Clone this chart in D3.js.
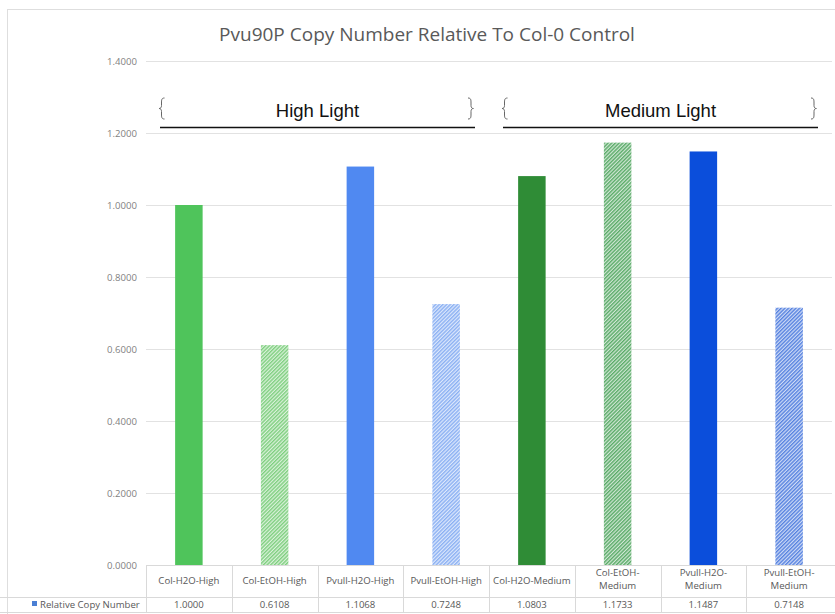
<!DOCTYPE html>
<html>
<head>
<meta charset="utf-8">
<script src="https://cdn.jsdelivr.net/npm/d3@7"></script>
<style>
  html, body { margin: 0; padding: 0; background: #fff; }
  svg { display: block; }
</style>
</head>
<body>
<svg id="chart" width="835" height="614"></svg>
<script>
// Sample names, measured relative copy number and per-bar styling
const categories = ["Col-H2O-High", "Col-EtOH-High", "Pvull-H2O-High", "Pvull-EtOH-High",
                    "Col-H2O-Medium", "Col-EtOH-Medium", "Pvull-H2O-Medium", "Pvull-EtOH-Medium"];
// table header text, broken where the column is too narrow
const tableLabels = [["Col-H2O-High"], ["Col-EtOH-High"], ["Pvull-H2O-High"], ["Pvull-EtOH-High"],
                     ["Col-H2O-Medium"], ["Col-EtOH-", "Medium"], ["Pvull-H2O-", "Medium"], ["Pvull-EtOH-", "Medium"]];
const values = [1.0000, 0.6108, 1.1068, 0.7248, 1.0803, 1.1733, 1.1487, 0.7148];
const barColors = ["#4fc45b", "#7fcf80", "#5089f1", "#8ab0f3", "#2f8c36", "#5aab68", "#0b4edb", "#5682e0"];
const hatched = [false, true, false, true, false, true, false, true];
const yTicks = [0, 0.2, 0.4, 0.6, 0.8, 1.0, 1.2, 1.4];
const groups = [
  { label: "High Light", from: 0, to: 3 },
  { label: "Medium Light", from: 4, to: 7 }
];
const seriesName = "Relative Copy Number";
const title = "Pvu90P Copy Number Relative To Col-0 Control";

const svg = d3.select("#chart");
const W = 835, H = 614;
const margin = { left: 146, right: 3, top: 61, bottom: 49 };
const plotBottom = H - margin.bottom;   // y of the 0 baseline
const tableMid = 597;                   // line between label row and value row
const tableBottom = 612;

const x = d3.scaleBand().domain(categories).range([margin.left, W - margin.right]).paddingInner(0).paddingOuter(0);
const y = d3.scaleLinear().domain([0, 1.4]).range([plotBottom, margin.top]);

const textFont = "'Open Sans', 'DejaVu Sans', sans-serif";
const smallSize = 9.6;

// chart frame
svg.append("rect")
  .attr("x", 7.5).attr("y", 9.5).attr("width", W + 10).attr("height", H + 10)
  .attr("fill", "#fff").attr("stroke", "#dedede");

// hatch patterns for the EtOH bars
const defs = svg.append("defs");
categories.forEach((c, i) => {
  if (!hatched[i]) return;
  const bg = d3.interpolateRgb(barColors[i], "#ffffff")(0.72);
  const p = defs.append("pattern")
    .attr("id", "hatch" + i)
    .attr("patternUnits", "userSpaceOnUse")
    .attr("width", 2.6).attr("height", 2.6)
    .attr("patternTransform", "rotate(45)");
  p.append("rect").attr("width", 2.6).attr("height", 2.6).attr("fill", bg);
  p.append("rect").attr("x", 0).attr("y", 0).attr("width", 1.4).attr("height", 2.6).attr("fill", barColors[i]);
});

// title
svg.append("text")
  .attr("x", 427).attr("y", 41)
  .attr("text-anchor", "middle")
  .attr("font-family", textFont).attr("font-size", 19)
  .attr("fill", "#595959")
  .text(title);

// gridlines
svg.append("g").selectAll("line").data(yTicks.slice(1)).join("line")
  .attr("x1", margin.left).attr("x2", W - margin.right)
  .attr("y1", d => Math.round(y(d)) + 0.5).attr("y2", d => Math.round(y(d)) + 0.5)
  .attr("stroke", "#e2e2e2").attr("stroke-width", 1);

// y axis tick labels
const yAxis = d3.axisLeft(y).tickValues(yTicks).tickFormat(d3.format(".4f")).tickSize(0).tickPadding(9);
const gy = svg.append("g").attr("transform", `translate(${margin.left},0)`).call(yAxis);
gy.select(".domain").remove();
gy.selectAll("text")
  .attr("font-family", textFont).attr("font-size", smallSize).attr("fill", "#7f7f7f");

// bars
const bw = 27.5;
svg.append("g").selectAll("rect").data(values).join("rect")
  .attr("x", (d, i) => x(categories[i]) + x.bandwidth() / 2 - bw / 2)
  .attr("width", bw)
  .attr("y", d => y(d))
  .attr("height", d => y(0) - y(d))
  .attr("fill", (d, i) => hatched[i] ? `url(#hatch${i})` : barColors[i]);

// curly brace path, opening side to the right (dir = 1) or left (dir = -1)
function brace(cx, top, bottom, dir) {
  const mid = (top + bottom) / 2, w = 3 * dir;
  return `M${cx + w},${top} C${cx},${top} ${cx},${top + 2} ${cx},${top + 5} ` +
         `L${cx},${mid - 3} C${cx},${mid - 1} ${cx - w * 0.3},${mid} ${cx - w * 0.8},${mid} ` +
         `C${cx - w * 0.3},${mid} ${cx},${mid + 1} ${cx},${mid + 3} ` +
         `L${cx},${bottom - 5} C${cx},${bottom - 2} ${cx},${bottom} ${cx + w},${bottom}`;
}

// group brackets with labels
const gb = svg.append("g");
groups.forEach(g => {
  const x0 = x(categories[g.from]) + 14;
  const x1 = x(categories[g.to]) + x.bandwidth() - 14;
  gb.append("line")
    .attr("x1", x0).attr("x2", x1).attr("y1", 127.5).attr("y2", 127.5)
    .attr("stroke", "#111").attr("stroke-width", 1.3);
  gb.append("path").attr("d", brace(x0 + 1.5, 98, 119, 1))
    .attr("fill", "none").attr("stroke", "#666").attr("stroke-width", 1);
  gb.append("path").attr("d", brace(x1 - 4, 98, 119, -1))
    .attr("fill", "none").attr("stroke", "#666").attr("stroke-width", 1);
  gb.append("text").attr("x", (x0 + x1) / 2).attr("y", 117)
    .attr("text-anchor", "middle")
    .attr("font-family", "'Liberation Sans', Arial, sans-serif").attr("font-size", 18.5)
    .attr("fill", "#111").text(g.label);
});

// data table below the axis
const table = svg.append("g").attr("stroke", "#d9d9d9").attr("stroke-width", 1);
table.append("line").attr("x1", margin.left).attr("x2", W).attr("y1", plotBottom + 0.5).attr("y2", plotBottom + 0.5);
table.append("line").attr("x1", 0).attr("x2", W).attr("y1", tableMid + 0.5).attr("y2", tableMid + 0.5);
table.append("line").attr("x1", 0).attr("x2", W).attr("y1", tableBottom + 0.5).attr("y2", tableBottom + 0.5);
table.selectAll("line.v").data(categories).join("line")
  .attr("class", "v")
  .attr("x1", d => Math.round(x(d)) + 0.5).attr("x2", d => Math.round(x(d)) + 0.5)
  .attr("y1", plotBottom).attr("y2", tableBottom);

// category labels
const labels = svg.append("g")
  .attr("font-family", textFont).attr("font-size", smallSize).attr("fill", "#595959").attr("text-anchor", "middle");
categories.forEach((c, i) => {
  const cx = x(c) + x.bandwidth() / 2;
  const lines = tableLabels[i];
  const t = labels.append("text").attr("y", lines.length > 1 ? 576 : 584);
  lines.forEach((ln, j) => t.append("tspan").attr("x", cx).attr("dy", j ? 13 : 0).text(ln));
});

// value row
const fmt = d3.format(".4f");
svg.append("g")
  .attr("font-family", textFont).attr("font-size", smallSize).attr("fill", "#595959").attr("text-anchor", "middle")
  .selectAll("text").data(values).join("text")
  .attr("x", (d, i) => x(categories[i]) + x.bandwidth() / 2)
  .attr("y", 608)
  .text(d => fmt(d));

// legend key for the series row
svg.append("rect").attr("x", 32).attr("y", 601).attr("width", 5).attr("height", 5).attr("fill", "#4a7fd4");
svg.append("text").attr("x", 40).attr("y", 608)
  .attr("font-family", textFont).attr("font-size", smallSize).attr("fill", "#595959")
  .text(seriesName);
</script>
</body>
</html>
